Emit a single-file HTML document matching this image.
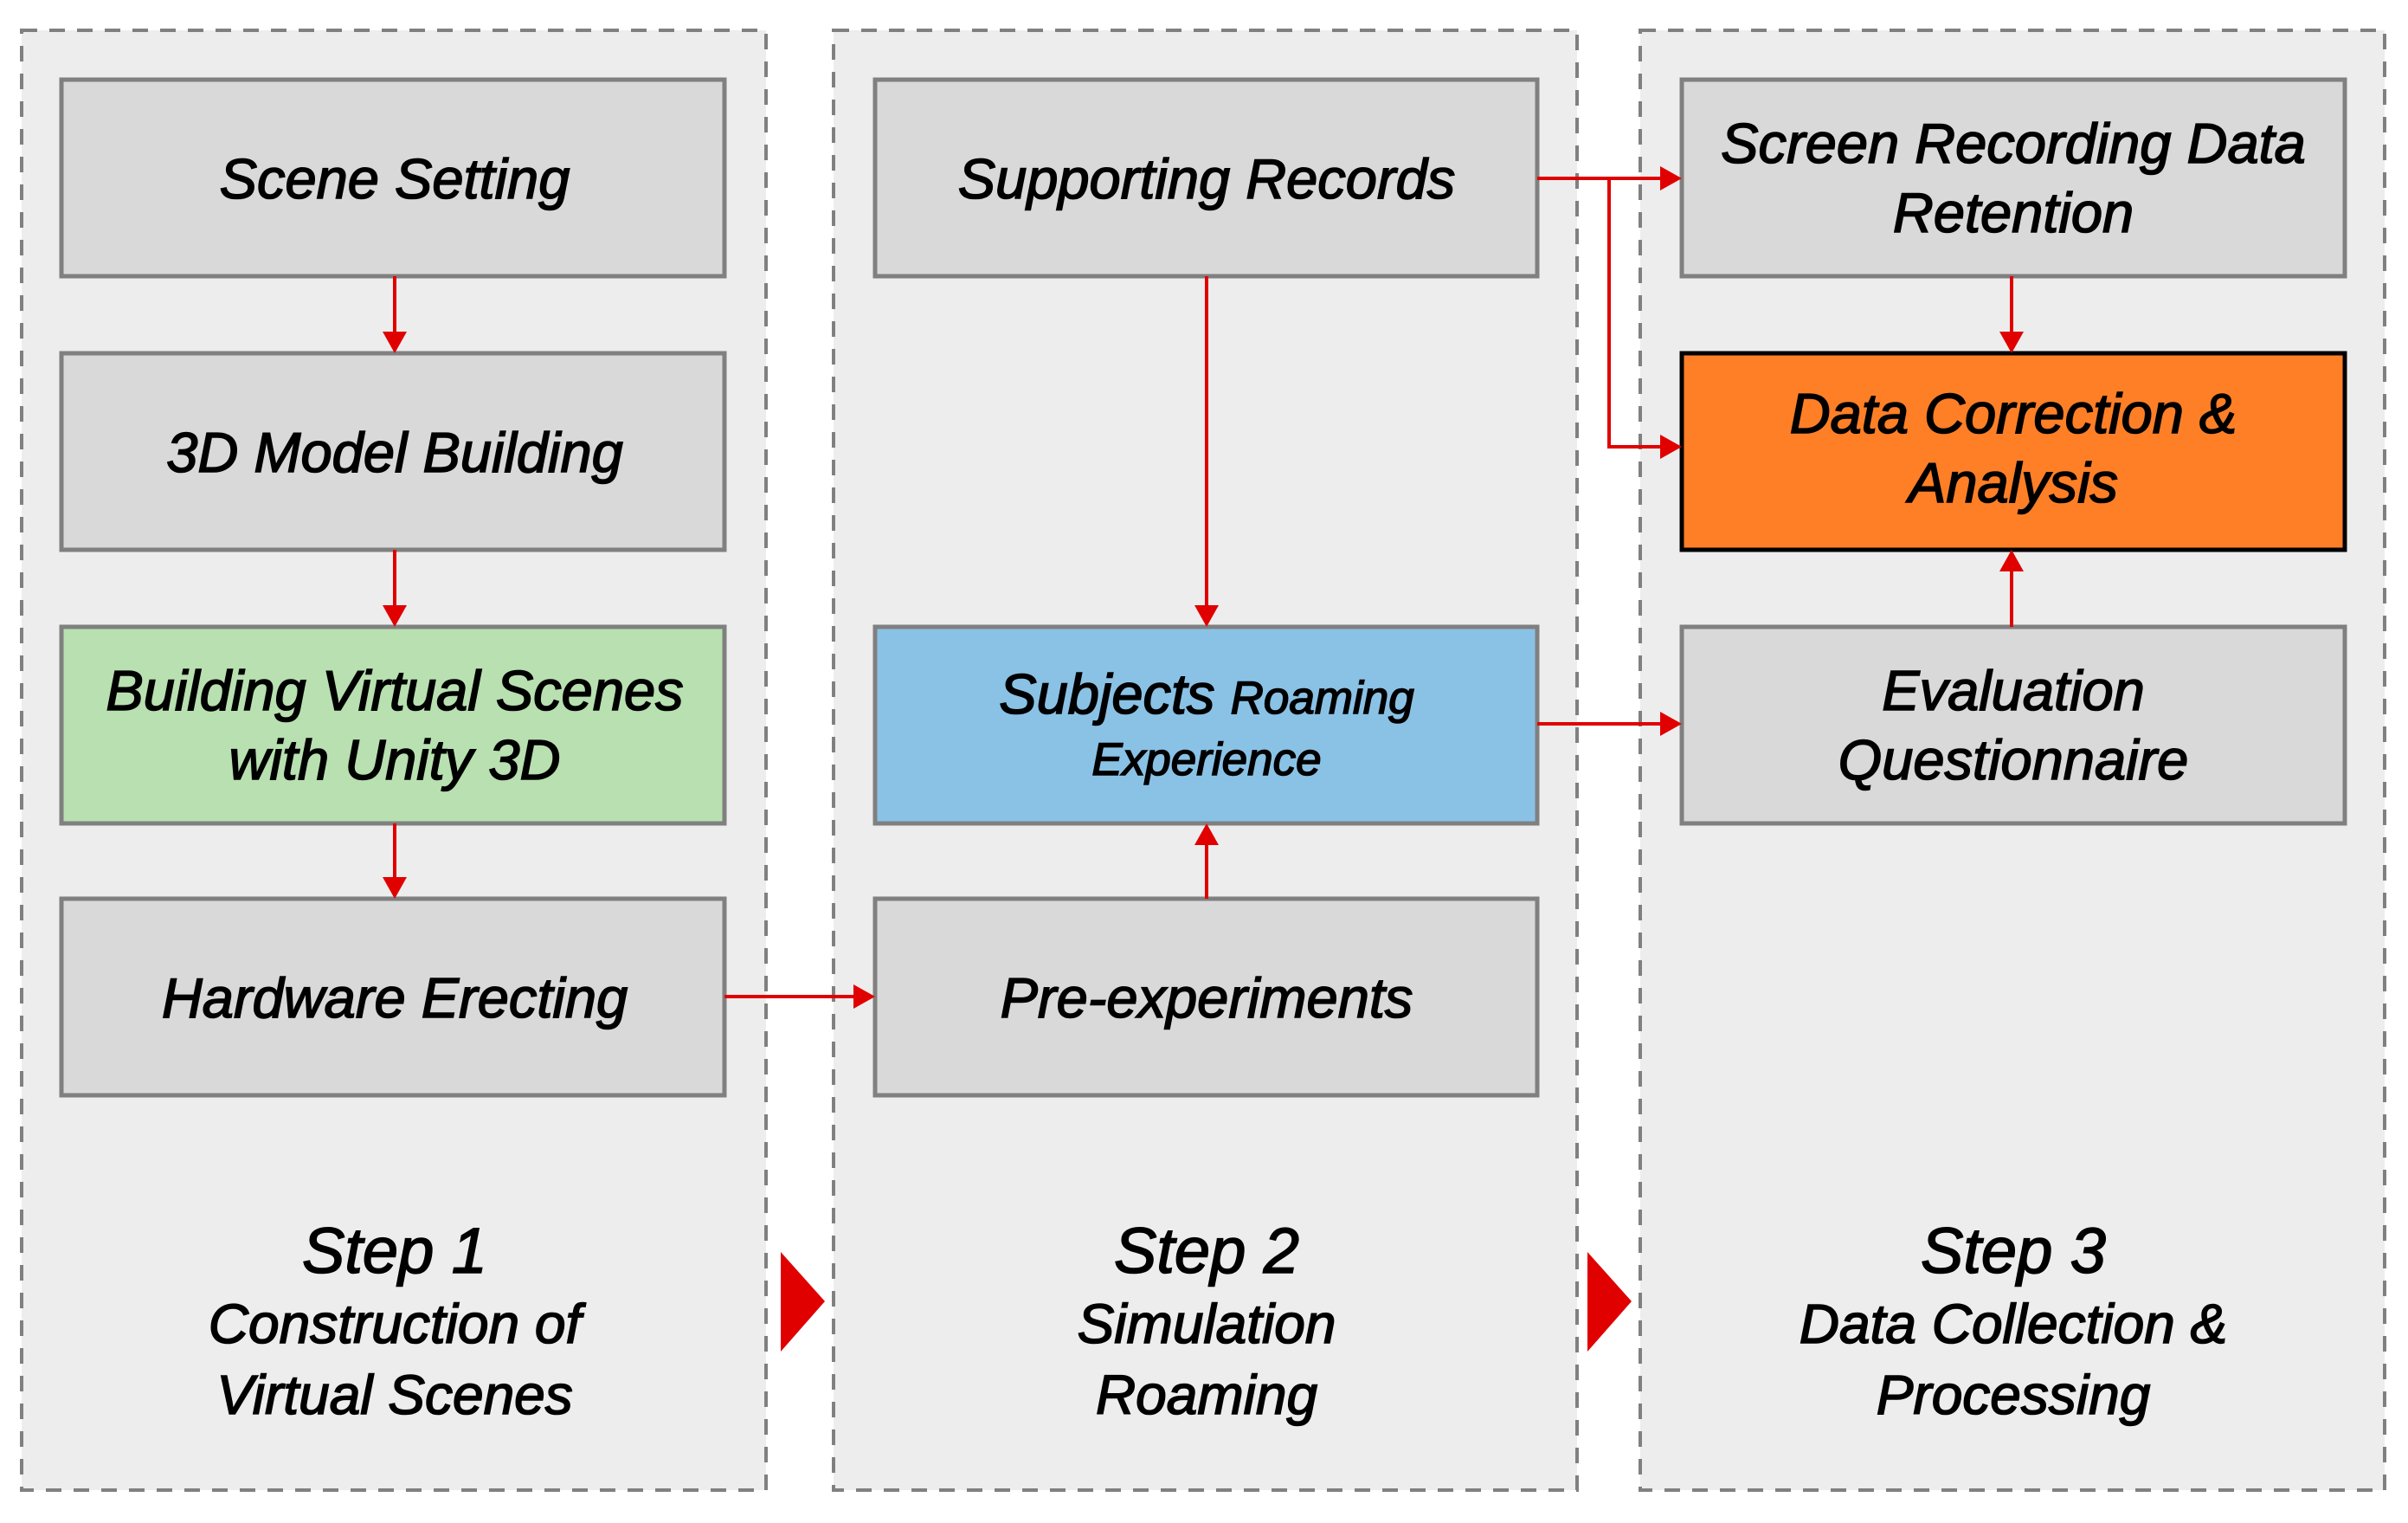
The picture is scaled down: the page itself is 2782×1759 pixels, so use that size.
<!DOCTYPE html>
<html><head><meta charset="utf-8"><style>
html,body{margin:0;padding:0;background:#fff;}
svg{display:block;}
text{font-family:"Liberation Sans","DejaVu Sans",sans-serif;font-style:italic;fill:#000;stroke:#000;stroke-width:1.6;text-anchor:middle;}
</style></head><body>
<svg width="2782" height="1759" viewBox="0 0 2782 1759" xmlns="http://www.w3.org/2000/svg">
<!-- panels -->
<g fill="#ededed" stroke="#808080" stroke-width="4" stroke-dasharray="18 14">
<rect x="25" y="35" width="860" height="1686"/>
<rect x="963" y="35" width="859" height="1686"/>
<rect x="1895" y="35" width="860" height="1686"/>
</g>
<!-- boxes -->
<g stroke="#808080" stroke-width="5" fill="#d9d9d9">
<rect x="71" y="92" width="766" height="227"/>
<rect x="71" y="408" width="766" height="227"/>
<rect x="71" y="724" width="766" height="227" fill="#b8e0b0"/>
<rect x="71" y="1038" width="766" height="227"/>
<rect x="1011" y="92" width="765" height="227"/>
<rect x="1011" y="724" width="765" height="227" fill="#8ac2e6"/>
<rect x="1011" y="1038" width="765" height="227"/>
<rect x="1943" y="92" width="766" height="227"/>
<rect x="1943" y="724" width="766" height="227"/>
</g>
<rect x="1943" y="408" width="766" height="227" fill="#ff7f27" stroke="#000" stroke-width="5"/>
<!-- connectors -->
<g stroke="#e00000" stroke-width="4" fill="none">
<line x1="456" y1="319" x2="456" y2="385"/>
<line x1="456" y1="635" x2="456" y2="701"/>
<line x1="456" y1="951" x2="456" y2="1015"/>
<line x1="837" y1="1151" x2="988" y2="1151"/>
<line x1="1394" y1="1038" x2="1394" y2="974"/>
<line x1="1394" y1="319" x2="1394" y2="701"/>
<line x1="1776" y1="206" x2="1920" y2="206"/>
<polyline points="1859,206 1859,516 1920,516"/>
<line x1="1776" y1="836" x2="1920" y2="836"/>
<line x1="2324" y1="319" x2="2324" y2="385"/>
<line x1="2324" y1="724" x2="2324" y2="658"/>
</g>
<g fill="#e00000">
<polygon points="442,383 470,383 456,408"/>
<polygon points="442,699 470,699 456,724"/>
<polygon points="442,1013 470,1013 456,1038"/>
<polygon points="986,1137 986,1165 1011,1151"/>
<polygon points="1380,976 1408,976 1394,951"/>
<polygon points="1380,699 1408,699 1394,724"/>
<polygon points="1918,192 1918,220 1943,206"/>
<polygon points="1918,502 1918,530 1943,516"/>
<polygon points="1918,822 1918,850 1943,836"/>
<polygon points="2310,383 2338,383 2324,408"/>
<polygon points="2310,660 2338,660 2324,635"/>
<polygon points="902,1446 902,1561 953,1503"/>
<polygon points="1834,1446 1834,1561 1885,1503"/>
</g>
<!-- labels -->
<g font-size="65">
<text x="456" y="229">Scene Setting</text>
<text x="456" y="545">3D Model Building</text>
<text x="456" y="820">Building Virtual Scenes</text>
<text x="456" y="900">with Unity 3D</text>
<text x="456" y="1175">Hardware Erecting</text>
<text x="1394" y="229">Supporting Records</text>
<text x="1394" y="1175">Pre-experiments</text>
<text x="2326" y="188">Screen Recording Data</text>
<text x="2326" y="268">Retention</text>
<text x="2326" y="500">Data Correction &amp;</text>
<text x="2326" y="580">Analysis</text>
<text x="2326" y="820">Evaluation</text>
<text x="2326" y="900">Questionnaire</text>
<text x="1394" y="824"><tspan>Subjects </tspan><tspan font-size="53">Roaming</tspan></text>
<text x="1394" y="895" font-size="53">Experience</text>
</g>
<g style="stroke-width:1.8">
<text x="456" y="1470" font-size="74">Step 1</text>
<text x="456" y="1551" font-size="64">Construction of</text>
<text x="456" y="1633" font-size="64">Virtual Scenes</text>
<text x="1394" y="1470" font-size="74">Step 2</text>
<text x="1394" y="1551" font-size="64">Simulation</text>
<text x="1394" y="1633" font-size="64">Roaming</text>
<text x="2326" y="1470" font-size="74">Step 3</text>
<text x="2326" y="1551" font-size="64">Data Collection &amp;</text>
<text x="2326" y="1633" font-size="64">Processing</text>
</g>
</svg>
</body></html>
